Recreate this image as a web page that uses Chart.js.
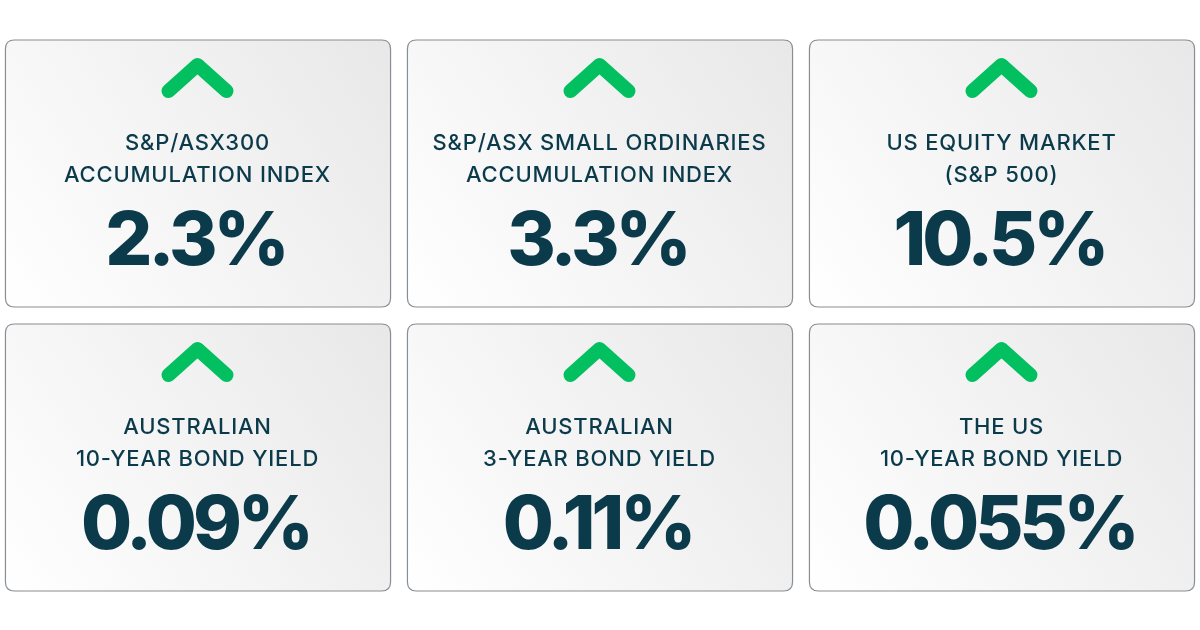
<!DOCTYPE html>
<html>
<head>
<meta charset="utf-8">
<script src="https://cdn.jsdelivr.net/npm/chart.js@4.4.1/dist/chart.umd.min.js"></script>
<style>
  html, body { margin: 0; padding: 0; background: #ffffff; }
  #wrap { width: 1200px; height: 630px; position: relative; }
</style>
</head>
<body>
<div id="wrap"><canvas id="mainChart"></canvas></div>
<script>
// card data, read left to right, top to bottom
var titleLine1 = ['S&P/ASX300', 'S&P/ASX SMALL ORDINARIES', 'US EQUITY MARKET', 'AUSTRALIAN', 'AUSTRALIAN', 'THE US'];
var titleLine2 = ['ACCUMULATION INDEX', 'ACCUMULATION INDEX', '(S&P 500)', '10-YEAR BOND YIELD', '3-YEAR BOND YIELD', '10-YEAR BOND YIELD'];
var changeValues = [2.3, 3.3, 10.5, 0.09, 0.11, 0.055];
var direction = ['up', 'up', 'up', 'up', 'up', 'up'];
var gridCol = [0, 1, 2, 0, 1, 2];
var gridRow = [0, 0, 0, 1, 1, 1];

var points = [];
for (var i in changeValues) {
  points.push({x: gridCol[i] + 0.5, y: gridRow[i] + 0.5, v: changeValues[i]});
}

var textColor = '#0b3a4b';
var upColor = '#02c060';

function roundRect(ctx, x, y, w, h, r) {
  ctx.beginPath();
  ctx.moveTo(x + r, y);
  ctx.lineTo(x + w - r, y);
  ctx.quadraticCurveTo(x + w, y, x + w, y + r);
  ctx.lineTo(x + w, y + h - r);
  ctx.quadraticCurveTo(x + w, y + h, x + w - r, y + h);
  ctx.lineTo(x + r, y + h);
  ctx.quadraticCurveTo(x, y + h, x, y + h - r);
  ctx.lineTo(x, y + r);
  ctx.quadraticCurveTo(x, y, x + r, y);
  ctx.closePath();
}

var cardPlugin = {
  id: 'cards',
  afterDatasetsDraw: function(chart) {
    var ctx = chart.ctx;
    var xs = chart.scales.x, ys = chart.scales.y;
    var w = Math.abs(xs.getPixelForValue(0.958) - xs.getPixelForValue(0));
    var h = Math.abs(ys.getPixelForValue(0.94) - ys.getPixelForValue(0));
    var meta = chart.getDatasetMeta(0);
    meta.data.forEach(function(pt, i) {
      var cx = pt.x, cy = pt.y;
      var left = cx - w / 2, top = cy - h / 2;
      ctx.save();
      // card
      var g = ctx.createLinearGradient(left, top + h, left + w, top);
      g.addColorStop(0, '#ffffff');
      g.addColorStop(1, '#e8e8e8');
      roundRect(ctx, left + 0.5, top + 0.5, w, h, 9);
      ctx.fillStyle = g;
      ctx.fill();
      ctx.lineWidth = 1.2;
      ctx.strokeStyle = '#888e94';
      ctx.stroke();

      // arrow
      ctx.beginPath();
      var dir = direction[i] === 'up' ? 1 : -1;
      ctx.moveTo(cx - 29, cy - 95 + dir * 13);
      ctx.lineTo(cx, cy - 95 - dir * 13);
      ctx.lineTo(cx + 29, cy - 95 + dir * 13);
      ctx.lineWidth = 14;
      ctx.lineCap = 'round';
      ctx.lineJoin = 'round';
      ctx.strokeStyle = dir === 1 ? upColor : '#e0403a';
      ctx.stroke();

      // titles
      ctx.fillStyle = textColor;
      ctx.textAlign = 'center';
      ctx.textBaseline = 'middle';
      ctx.font = '500 22px Inter';
      ctx.letterSpacing = '0.8px';
      ctx.fillText(titleLine1[i], cx, cy - 30);
      ctx.fillText(titleLine2[i], cx, cy + 2);

      // value
      ctx.font = '800 74px Inter';
      ctx.letterSpacing = '-4px';
      ctx.fillText(String(changeValues[i]) + '%', cx - 2, cy + 70);
      ctx.restore();
    });
  }
};

var chart = new Chart(document.getElementById('mainChart'), {
  type: 'scatter',
  data: {
    datasets: [{
      label: 'Change',
      data: points,
      pointRadius: 0,
      pointHoverRadius: 0
    }]
  },
  options: {
    responsive: true,
    maintainAspectRatio: false,
    animation: false,
    layout: { padding: { left: 0, right: 0, top: 31, bottom: 31 } },
    plugins: { legend: { display: false }, tooltip: { enabled: false } },
    scales: {
      x: { type: 'linear', min: 0.0087, max: 2.9938, display: false },
      y: { type: 'linear', min: 0, max: 2, reverse: true, display: false }
    }
  },
  plugins: [cardPlugin]
});
</script>
</body>
</html>
